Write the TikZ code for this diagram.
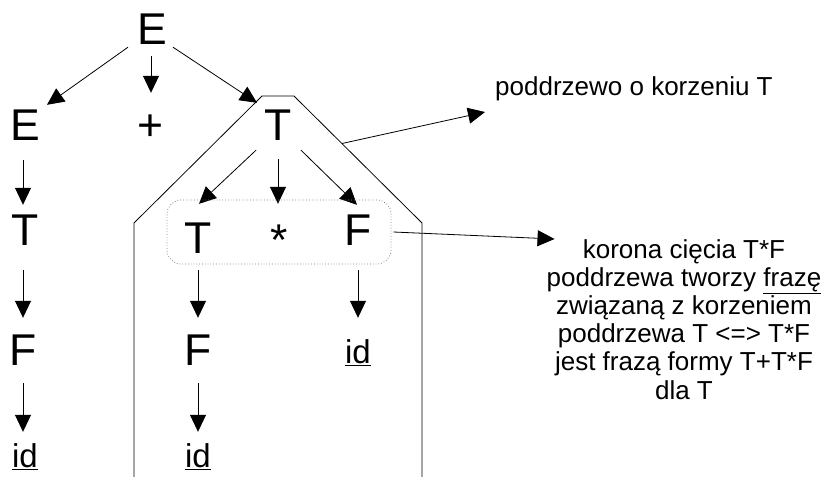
\documentclass[tikz,border=0pt]{standalone}
\usepackage{fontspec}
\setmainfont{Liberation Sans}
\usetikzlibrary{arrows.meta,calc}
\begin{document}
\begin{tikzpicture}[x=1pt,y=-1pt,
  big/.style={inner sep=0pt, anchor=base, font=\fontsize{44.5}{44.5}\selectfont, text height=31pt, text depth=0pt},
  idn/.style={inner sep=0pt, anchor=base, font=\fontsize{33}{33}\selectfont, text height=24pt, text depth=0pt},
  arr/.style={-{Triangle[length=17pt,width=16pt]}, line width=0.8pt},
  lab/.style={font=\fontsize{26}{28.2}\selectfont, inner sep=0pt}]
\useasboundingbox (0,0) rectangle (831,477);
% tree nodes
\node[big] (E0) at (152,44) {E};
\node[big] (E1) at (25,140) {E};
\node[big] (P) at (150,140) {+};
\node[big] (T2) at (278,140) {T};
\node[big] (T1) at (25,245) {T};
\node[big] (T3) at (198,253) {T};
\node[big] (S) at (279,255) {*};
\node[big] (F3) at (358,245) {F};
\node[big] (F1) at (23,365) {F};
\node[big] (F2) at (198,365) {F};
\node[idn] (I3) at (358,363) {\underline{id}};
\node[idn] (I1) at (25,467) {\underline{id}};
\node[idn] (I2) at (198,467) {\underline{id}};
% tree arrows
\draw[arr] ($(E0.south)+(-24,3)$) -- ($(E1.north)+(22,-4)$);
\draw[arr] ($(E0.south)+(-1,12)$) -- ($(P.north)+(1,-16)$);
\draw[arr] ($(E0.south)+(21,3)$) -- ($(T2.north)+(-21,-6)$);
\draw[arr] ($(T2.south)+(-22,10)$) -- ($(T3.north)+(1,-18)$);
\draw[arr] ($(T2.south)+(0,19)$) -- ($(S.north)+(-1,-20)$);
\draw[arr] ($(T2.south)+(23,10)$) -- ($(F3.north)+(-1,-9)$);
\draw[arr] ($(E1.south)+(-2,20)$) -- ($(T1.north)+(-2,-9)$);
\draw[arr] ($(T1.south)+(-2,25)$) -- ($(F1.north)+(0,-16)$);
\draw[arr] ($(F1.south)+(0,18)$) -- ($(I1.north)+(-2,-11)$);
\draw[arr] ($(T3.south)+(0,17)$) -- ($(F2.north)+(0,-16)$);
\draw[arr] ($(F2.south)+(0,18)$) -- ($(I2.north)+(0,-11)$);
\draw[arr] ($(F3.south)+(0,25)$) -- ($(I3.north)+(0,-21)$);
% subtree outline
\draw[line width=0.8pt] (134,477) -- (134,223) -- (262,96) -- (294,96) -- (422,223) -- (422,477);
\coordinate (pe) at (342,143.5);
% crown
\node[draw=gray, dotted, line width=0.8pt, rounded corners=14pt, minimum width=224pt, minimum height=64pt, inner sep=0pt] (C) at (279,232) {};
% labels
\node[lab, anchor=base west] (L1) at (495,95) {poddrzewo o korzeniu T};
\draw[arr] (pe) -- ($(L1.base west)+(-10,17)$);
\node[lab, align=center, anchor=north] (L2) at (684,239) {korona cięcia T*F\\poddrzewa tworzy \underline{frazę}\\związaną z korzeniem\\poddrzewa T <=> T*F\\jest frazą formy T+T*F\\dla T};
\draw[arr] ($(C.east)+(2,0)$) -- ($(L2.north west)+(8,0)$);
\end{tikzpicture}
\end{document}
